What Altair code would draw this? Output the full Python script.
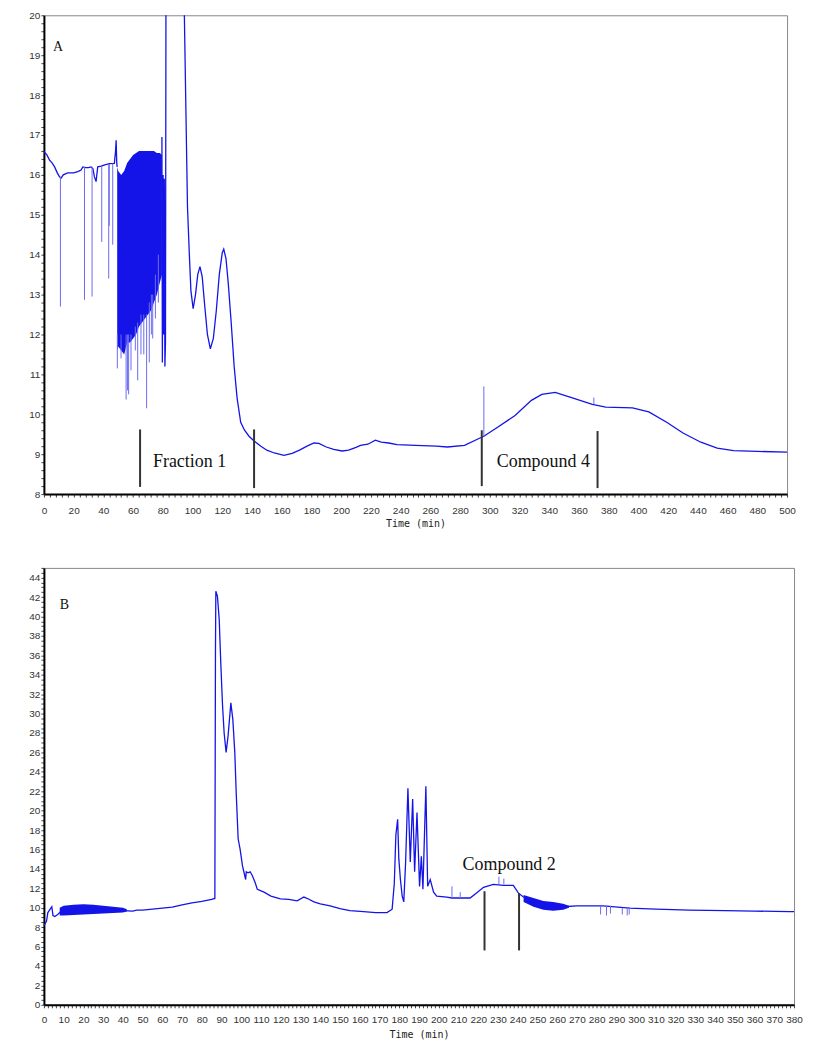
import altair as alt
import pandas as pd

# ---------------- Panel A (0-500 min) ----------------
a_pre_t = [0, 0.5, 2, 3.8, 5.5, 7.2, 9, 10.5, 11.6, 13, 16, 20, 22.8, 25, 26.2, 28, 30, 31.8, 33, 34, 35.1, 36.2, 38.5, 41, 44, 47.4, 48.2, 48.6, 49.0, 49.3]
a_pre_v = [16.6, 16.56, 16.5, 16.37, 16.3, 16.2, 16.05, 15.95, 15.92, 16.0, 16.05, 16.05, 16.08, 16.12, 16.2, 16.18, 16.18, 16.2, 16.15, 15.95, 15.83, 16.2, 16.22, 16.25, 16.28, 16.29, 16.6, 16.87, 16.3, 16.2]

a_post_t = [79.4, 79.7, 80.2, 80.6, 81.0, 81.4, 81.8, 82.1, 82.4, 94.2, 94.5, 95.5, 96.6, 97.8, 98.9, 100.4, 102, 103.5, 105, 106.5, 108, 110, 112, 114, 116, 118, 120, 121, 122.5, 124, 126, 128, 130, 132.4, 135, 138, 141.4, 146, 150, 155, 161.5, 167, 172, 177, 181.7, 185, 190, 195, 200.7, 205, 210, 213, 218, 223, 227, 232, 237.6, 250, 264, 271.5, 283, 292, 296, 305, 317, 328, 335, 344, 355, 369, 378, 396, 407, 419, 430, 442, 453, 464, 480, 500]
a_post_v = [16.95, 11.3, 16.0, 12.0, 15.9, 11.2, 11.8, 20.0, 28.0, 28.0, 20.0, 17.7, 15.2, 14.05, 13.1, 12.65, 13.0, 13.5, 13.7, 13.45, 12.8, 12.0, 11.64, 11.9, 12.6, 13.5, 14.05, 14.14, 13.9, 13.3, 12.3, 11.2, 10.4, 9.8, 9.6, 9.45, 9.33, 9.2, 9.1, 9.03, 8.97, 9.02, 9.1, 9.2, 9.28, 9.27, 9.18, 9.12, 9.08, 9.1, 9.17, 9.22, 9.25, 9.35, 9.3, 9.28, 9.24, 9.22, 9.2, 9.18, 9.22, 9.38, 9.45, 9.67, 9.97, 10.35, 10.5, 10.55, 10.42, 10.25, 10.18, 10.16, 10.06, 9.8, 9.53, 9.3, 9.15, 9.09, 9.07, 9.05]

# dense noise envelope (49-80 min)
a_env_t = [49.3, 50, 52, 54, 56, 58, 60, 62, 64, 66, 68, 70, 72, 74, 76, 78, 79.4]
a_env_lo = [11.6, 11.7, 11.6, 11.5, 11.8, 11.8, 11.9, 12.0, 12.2, 12.3, 12.4, 12.5, 12.6, 12.8, 13.0, 13.3, 13.5]
a_env_hi = [16.2, 16.1, 16.0, 16.1, 16.3, 16.4, 16.5, 16.55, 16.6, 16.6, 16.6, 16.6, 16.6, 16.6, 16.55, 16.55, 16.5]

# single-sample spikes
a_spk_t = [11.1, 27.3, 32.4, 38.9, 43.6, 44.0, 46.3, 49.4, 51.9, 55.3, 56.2, 57.0, 58.6, 61.5, 63.1, 65.3, 67.2, 69.1, 70.9, 72.3, 73.2, 75.0, 77.0, 296, 370]
a_spk_from = [15.95, 16.2, 16.2, 16.22, 16.27, 16.27, 16.28, 12.0, 12.0, 12.0, 12.0, 12.0, 12.0, 12.2, 12.3, 12.5, 12.5, 12.5, 12.8, 13.0, 13.0, 13.5, 14.0, 9.45, 10.25]
a_spk_to = [12.7, 12.87, 12.95, 14.32, 13.4, 14.72, 14.25, 11.15, 11.4, 10.37, 10.6, 10.5, 11.1, 11.6, 10.85, 11.5, 11.5, 10.15, 11.3, 12.0, 11.9, 12.4, 12.8, 10.7, 10.42]

# fraction markers
a_mark_t = [64.7, 141.4, 294.6, 372.5]
a_mark_top = [9.62, 9.62, 9.6, 9.58]
a_mark_bot = [8.18, 8.15, 8.2, 8.15]
a_label_text = ["Fraction 1", "Compound 4"]
a_label_t = [98, 336]
a_label_v = [8.8, 8.8]

# ---------------- Panel B (0-380 min) ----------------
b_t = [0, 0.5, 1.3, 2, 3, 4, 4.6, 5.5, 7, 8.5, 15, 20, 25, 30, 35, 40, 45, 47, 50, 55, 60, 65, 70, 75, 80, 85, 86.6, 86.9, 87.1, 87.9, 88.8, 89.6, 90.5, 91.3, 92.3, 93.3, 94.7, 95.7, 96.7, 97.4, 98.4, 99.4, 100.6, 101.4, 102.2, 102.5, 103.4, 104.5, 105.6, 107, 108.1, 111.5, 115, 119.8, 124, 128.3, 131.7, 134, 136.8, 140, 145, 150, 155, 162, 168, 173.8, 176.4, 177.5, 178.3, 179.2, 179.8, 180.6, 181.5, 182.3, 183.2, 184.4, 185.6, 186.8, 187.8, 189, 190.3, 191.2, 192, 193.5, 194.4, 195.7, 197.4, 199, 204.1, 206.7, 210.9, 215.9, 219, 222.7, 227.7, 232.8, 237.8, 240.4, 242.9, 249.6, 256.3, 263.1, 269.8, 283.3, 296.8, 310, 327, 345, 360, 377.5, 380]
b_v = [8.2, 8.3, 8.6, 9.5, 9.8, 10.1, 9.2, 9.1, 9.3, 9.6, 9.8, 9.85, 9.85, 9.8, 9.75, 9.7, 9.65, 9.75, 9.75, 9.85, 9.95, 10.05, 10.3, 10.5, 10.65, 10.85, 10.95, 36.0, 42.6, 42.1, 39.7, 35.2, 30.8, 28.0, 26.0, 27.7, 31.1, 29.4, 26.0, 21.9, 17.1, 16.0, 14.3, 13.6, 12.9, 13.7, 13.6, 13.7, 13.3, 12.6, 11.9, 11.6, 11.2, 10.9, 10.85, 10.7, 11.1, 10.9, 10.6, 10.4, 10.2, 9.9, 9.7, 9.6, 9.5, 9.5, 9.85, 12.5, 17.5, 19.1, 15.0, 12.9, 11.2, 10.6, 14.5, 22.3, 14.7, 21.2, 13.7, 19.8, 12.2, 15.3, 11.9, 22.5, 12.2, 12.9, 11.6, 11.2, 11.1, 11.0, 11.0, 11.0, 11.5, 12.1, 12.4, 12.3, 12.3, 11.5, 11.1, 10.6, 10.3, 10.1, 10.2, 10.2, 9.95, 9.85, 9.75, 9.7, 9.65, 9.6, 9.6]

b_env1_t = [8, 10, 15, 20, 25, 30, 35, 40, 42]
b_env1_lo = [9.2, 9.2, 9.25, 9.3, 9.35, 9.4, 9.45, 9.5, 9.6]
b_env1_hi = [10.0, 10.2, 10.3, 10.35, 10.3, 10.2, 10.1, 10.0, 9.85]
b_env2_t = [243, 248, 253, 258, 263, 266]
b_env2_lo = [10.6, 10.1, 9.8, 9.7, 9.8, 10.0]
b_env2_hi = [11.3, 11.0, 10.7, 10.6, 10.4, 10.2]

b_spk_t = [206.7, 210.9, 230.5, 233.0, 282, 285, 287, 293, 295.5, 296.5]
b_spk_from = [11.0, 11.0, 12.4, 12.4, 10.2, 10.2, 10.2, 10.0, 10.0, 10.0]
b_spk_to = [12.2, 11.6, 13.2, 13.0, 9.3, 9.2, 9.4, 9.3, 9.2, 9.3]

b_mark_t = [223.2, 240.7]
b_mark_top = [11.7, 11.5]
b_mark_bot = [5.6, 5.6]
b_label_text = ["Compound 2"]
b_label_t = [235.7]
b_label_v = [14.4]

# ---------------- styling ----------------
LINE = "#1414e8"
SPIKE = "#6b6bf2"
MARK = "#333333"
SERIF = "Liberation Serif"
LABEL_FONT = "Liberation Sans Narrow, Liberation Sans, sans-serif"


def seg_df(t, v, seg):
    return pd.DataFrame({"t": t, "v": v, "seg": seg, "i": range(len(t))})


def panel(xmax, xstep, xlab, ydom, ystep, ylab, ymaxlab, w, h, lpad, tpad,
          lines, envs, spikes, marks, labels, tag, tag_xy):
    xs = alt.Scale(domain=[0, xmax], nice=False, zero=False)
    ys = alt.Scale(domain=ydom, nice=False, zero=False)
    nx = int(round(xmax / xstep))
    xvals = [round(k * xstep, 3) for k in range(nx + 1)]
    ny = int(round((ydom[1] - ydom[0]) / ystep))
    yvals = [round(ydom[0] + k * ystep, 3) for k in range(ny + 1)]
    xaxis = alt.Axis(values=xvals, title="Time (min)", grid=False, tickSize=3,
                     labelOverlap=False, labelFlush=False,
                     labelExpr=f"datum.value % {xlab} === 0 ? format(datum.value, 'd') : ''",
                     labelPadding=lpad, titlePadding=tpad)
    yaxis = alt.Axis(values=yvals, title=None, grid=False, tickSize=3,
                     labelOverlap=False, labelFlush=False,
                     labelExpr=f"(datum.value % {ylab} === 0 && datum.value <= {ymaxlab}) ? format(datum.value, 'd') : ''",
                     labelPadding=1)

    def X(f="t"):
        return alt.X(f"{f}:Q", scale=xs, axis=xaxis)

    def Y(f):
        return alt.Y(f"{f}:Q", scale=ys, axis=yaxis)

    layers = []
    for edf in envs:
        layers.append(alt.Chart(edf).mark_area(color=LINE, opacity=1, clip=True).encode(
            x=X(), y=Y("lo"), y2="hi:Q"))
    ldf = pd.concat(lines, ignore_index=True)
    layers.append(alt.Chart(ldf).mark_line(color=LINE, strokeWidth=1.3, clip=True).encode(
        x=X(), y=Y("v"), detail="seg:N", order="i:Q"))
    layers.append(alt.Chart(spikes).mark_rule(color=SPIKE, strokeWidth=1, clip=True).encode(
        x=X(), y=Y("a"), y2="b:Q"))
    layers.append(alt.Chart(marks).mark_rule(color=MARK, strokeWidth=2).encode(
        x=X(), y=Y("top"), y2="bot:Q"))
    layers.append(alt.Chart(labels).mark_text(font=SERIF, fontSize=18, color="#111").encode(
        x=X(), y=Y("v"), text="text:N"))
    layers.append(alt.Chart(pd.DataFrame({"text": [tag]})).mark_text(
        font=SERIF, fontSize=14, color="#111", align="left", baseline="middle").encode(
        x=alt.value(tag_xy[0]), y=alt.value(tag_xy[1]), text="text:N"))
    return alt.layer(*layers).properties(width=w, height=h)


# Panel A tables
a_lines = [seg_df(a_pre_t, a_pre_v, "pre"), seg_df(a_post_t, a_post_v, "post")]
a_envs = [pd.DataFrame({"t": a_env_t, "lo": a_env_lo, "hi": a_env_hi})]
a_spikes = pd.DataFrame({"t": a_spk_t, "a": a_spk_from, "b": a_spk_to})
a_marks = pd.DataFrame({"t": a_mark_t, "top": a_mark_top, "bot": a_mark_bot})
a_labels = pd.DataFrame({"t": a_label_t, "v": a_label_v, "text": a_label_text})

b_lines = [seg_df(b_t, b_v, "main")]
b_envs = [pd.DataFrame({"t": b_env1_t, "lo": b_env1_lo, "hi": b_env1_hi}),
          pd.DataFrame({"t": b_env2_t, "lo": b_env2_lo, "hi": b_env2_hi})]
b_spikes = pd.DataFrame({"t": b_spk_t, "a": b_spk_from, "b": b_spk_to})
b_marks = pd.DataFrame({"t": b_mark_t, "top": b_mark_top, "bot": b_mark_bot})
b_labels = pd.DataFrame({"t": b_label_t, "v": b_label_v, "text": b_label_text})

top = panel(500, 4, 20, [8, 20], 0.2, 1, 20, 745, 480, 8, 3,
            a_lines, a_envs, a_spikes, a_marks, a_labels, "A", (9, 32))
bottom = panel(380, 2, 10, [0, 45], 0.5, 2, 44, 752, 438, 7, 5,
               b_lines, b_envs, b_spikes, b_marks, b_labels, "B", (16, 37))

chart = alt.vconcat(top, bottom, spacing=33).properties(
    padding={"left": 20, "top": 0, "right": 5, "bottom": 5}
).configure_view(
    stroke="#888", strokeWidth=1
).configure_axis(
    labelAngle=0, labelOverlap=False, labelFlush=False,
    labelFont=LABEL_FONT, labelFontSize=10, labelColor="#333",
    titleFont="DejaVu Sans Mono", titleFontSize=10, titleFontWeight="normal", titleColor="#222",
    domainColor="#000", domainWidth=2, tickColor="#444", tickWidth=1, tickSize=3
)

chart.save("out.html", embed_options={"renderer": "svg", "actions": False})
